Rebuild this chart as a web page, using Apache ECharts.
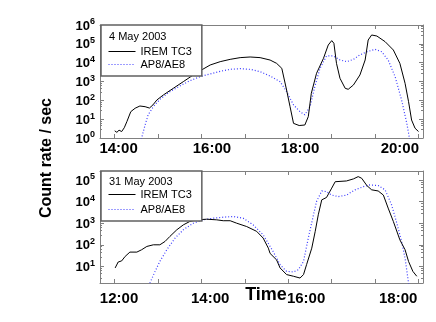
<!DOCTYPE html>
<html>
<head>
<meta charset="utf-8">
<script src="https://cdn.jsdelivr.net/npm/echarts@6/dist/echarts.min.js"></script>
<style>
  html, body { margin: 0; padding: 0; background: #fff; }
  #chart { width: 436px; height: 322px; }
</style>
</head>
<body>
<div id="chart"></div>
<script>
// 4 May 2003 pass (hours UT, counts/sec)
const may04IremT = [14.00, 14.05, 14.10, 14.16, 14.22, 14.28, 14.37, 14.47, 14.58, 14.70, 14.80, 14.88, 14.97, 15.12, 15.35, 15.58, 15.81, 16.00, 16.20, 16.43, 16.66, 16.89, 17.12, 17.35, 17.58, 17.73, 17.85, 17.96, 18.04, 18.12, 18.15, 18.25, 18.38, 18.46, 18.53, 18.65, 18.81, 18.92, 19.00, 19.05, 19.11, 19.19, 19.31, 19.38, 19.50, 19.65, 19.77, 19.84, 19.92, 20.04, 20.23, 20.42, 20.57, 20.69, 20.77, 20.84, 20.92, 21.00]
const may04IremV = [2.4, 2.0, 2.6, 2.2, 3.5, 7.4, 25, 38, 50, 46, 39, 57, 104, 192, 435, 980, 2220, 4080, 7530, 11300, 15000, 18500, 20000, 18500, 13800, 9200, 5000, 354, 46, 6.0, 4.9, 4.6, 4.9, 13.6, 236, 2720, 17000, 87000, 148000, 107000, 9200, 1480, 435, 385, 653, 2220, 13900, 160000, 295000, 260000, 130000, 47000, 9200, 800, 85, 9, 3.3, 2.2]
const may04ModelT = [14.55, 14.62, 14.70, 14.77, 14.89, 15.04, 15.27, 15.50, 15.73, 15.97, 16.20, 16.43, 16.66, 16.89, 17.12, 17.35, 17.58, 17.81, 17.96, 18.12, 18.27, 18.38, 18.50, 18.61, 18.73, 18.88, 19.04, 19.19, 19.35, 19.50, 19.65, 19.81, 20.00, 20.15, 20.30, 20.46, 20.61, 20.73, 20.79, 20.83]
const may04ModelV = [0.3, 1, 4.9, 17, 46, 113, 290, 577, 1100, 1820, 2500, 3470, 4440, 4800, 4440, 3330, 1960, 980, 290, 57, 25, 17, 46, 530, 5000, 22700, 22700, 13900, 11300, 15000, 26000, 38000, 51000, 38000, 13900, 1820, 104, 6, 1, 0.3]

// 31 May 2003 pass
const may31IremT = [12.01, 12.08, 12.16, 12.24, 12.35, 12.51, 12.62, 12.74, 12.89, 13.04, 13.16, 13.27, 13.43, 13.58, 13.73, 13.89, 14.12, 14.35, 14.50, 14.66, 14.81, 15.04, 15.27, 15.42, 15.54, 15.58, 15.62, 15.73, 15.81, 15.96, 16.12, 16.27, 16.35, 16.42, 16.54, 16.62, 16.69, 16.77, 16.88, 17.00, 17.08, 17.34, 17.50, 17.61, 17.69, 17.81, 17.92, 18.07, 18.19, 18.30, 18.42, 18.57, 18.69, 18.77, 18.87, 18.96]
const may31IremV = [8.5, 16, 18, 29, 46, 46, 59, 84, 100, 100, 143, 243, 494, 835, 1200, 1430, 1530, 1430, 1300, 1300, 1000, 700, 420, 205, 70, 40, 35, 20, 8.5, 4.2, 3.5, 2.9, 4.2, 12, 70, 420, 2440, 12000, 15500, 42000, 83000, 90000, 112000, 143000, 120000, 55000, 35000, 31000, 20000, 5000, 1200, 170, 59, 17, 5.9, 3.5]
const may31ModelT = [12.81, 12.93, 13.04, 13.20, 13.39, 13.58, 13.81, 14.04, 14.27, 14.50, 14.73, 14.96, 15.19, 15.42, 15.65, 15.81, 15.96, 16.12, 16.23, 16.35, 16.46, 16.58, 16.65, 16.77, 16.88, 17.00, 17.15, 17.34, 17.54, 17.73, 17.88, 18.07, 18.23, 18.38, 18.50, 18.61, 18.69, 18.77, 18.82]
const may31ModelV = [1.7, 5.9, 17, 59, 205, 494, 1000, 1430, 1700, 1900, 2050, 1700, 835, 290, 49, 12, 5.9, 5.6, 7, 17, 205, 2440, 10000, 31000, 29000, 20000, 17000, 20000, 35000, 49000, 59000, 55000, 35000, 7000, 1000, 143, 24, 1.7, 0.5]

// tick and label positions (hours) as drawn on the original
const may04Ticks = [14, 15, 16, 17, 18, 19, 20, 21]
const may04LabelPos = [14.09, 16.24, 18.27, 20.57]
const may04LabelText = ['14:00', '16:00', '18:00', '20:00']
const may31Ticks = [12, 13, 14, 15, 16, 17, 18, 19]
const may31LabelPos = [12.10, 14.20, 16.41, 18.53]
const may31LabelText = ['12:00', '14:00', '16:00', '18:00']

const font = 'Liberation Sans, Arial, Helvetica, sans-serif'
const boxColor = '#808080'
const modelColor = '#3a3aff'

const zip = (t, v) => t.map((x, i) => [x, v[i]])

const powLabel = (v) => {
  const e = Math.log10(v)
  const r = Math.round(e)
  if (Math.abs(e - r) > 0.01) return ''
  return '{b|10}{s|' + r + '}'
}

const xAxes = (grid, min, max, ticks, pos, text, withName) => [
  {
    type: 'value', gridIndex: grid, position: 'bottom', min, max,
    splitLine: { show: false },
    axisLine: { lineStyle: { color: boxColor, width: 1 } },
    axisTick: { inside: true, length: 4, customValues: ticks, lineStyle: { color: boxColor } },
    axisLabel: {
      customValues: pos,
      margin: grid === 0 ? 3 : 8,
      color: '#000', fontFamily: font, fontWeight: 'bold', fontSize: 15,
      formatter: (v) => {
        let k = 0
        pos.forEach((p, i) => { if (Math.abs(p - v) < Math.abs(pos[k] - v)) k = i })
        return text[k]
      },
    },
    name: withName ? 'Time' : '',
    nameLocation: 'middle',
    nameGap: 3,
    nameMoveOverlap: false,
    nameTextStyle: { color: '#000', fontFamily: font, fontWeight: 'bold', fontSize: 18, padding: [0, 0, 0, 9] },
  },
  {
    type: 'value', gridIndex: grid, position: 'top', min, max,
    splitLine: { show: false },
    axisLine: { lineStyle: { color: boxColor, width: 1 } },
    axisTick: { inside: true, length: 4, customValues: ticks, lineStyle: { color: boxColor } },
    axisLabel: { show: false },
  },
]

const yAxes = (grid, min, max) => [
  {
    type: 'log', gridIndex: grid, position: 'left', min, max, logBase: 10,
    splitLine: { show: false },
    axisLine: { show: true, lineStyle: { color: boxColor, width: 1 } },
    axisTick: { inside: true, length: 4, lineStyle: { color: boxColor } },
    minorTick: { show: true, splitNumber: 5, length: 2, lineStyle: { color: boxColor } },
    axisLabel: {
      margin: 5,
      formatter: powLabel,
      showMinLabel: true, showMaxLabel: true,
      rich: {
        b: { fontSize: 13, fontWeight: 'bold', fontFamily: font, color: '#000', verticalAlign: 'bottom', lineHeight: 15 },
        s: { fontSize: 9, fontWeight: 'bold', fontFamily: font, color: '#000', verticalAlign: 'top', lineHeight: 9 },
      },
    },
  },
  {
    type: 'log', gridIndex: grid, position: 'right', min, max, logBase: 10,
    splitLine: { show: false },
    axisLine: { show: true, lineStyle: { color: boxColor, width: 1 } },
    axisTick: { inside: true, length: 4, lineStyle: { color: boxColor } },
    minorTick: { show: true, splitNumber: 5, length: 2, lineStyle: { color: boxColor } },
    axisLabel: { show: false },
  },
]

const lineSeries = (name, data, xi, yi) => ({
  name, type: 'line', data, xAxisIndex: xi, yAxisIndex: yi,
  showSymbol: false, symbol: 'none', smooth: false, clip: true, animation: false,
  lineStyle: name === 'IREM TC3'
    ? { color: '#000', width: 1 }
    : { color: modelColor, width: 1.2, type: [1, 2] },
  itemStyle: { color: name === 'IREM TC3' ? '#000' : modelColor },
  z: name === 'IREM TC3' ? 3 : 2,
})

const legendBox = (top, padTop, gap) => ({
  orient: 'vertical', left: 101, top,
  data: ['IREM TC3', 'AP8/AE8'],
  padding: [padTop, 10, 6, 7],
  itemWidth: 27, itemHeight: 11, itemGap: gap,
  itemStyle: { color: 'transparent', borderColor: 'transparent', borderWidth: 0, opacity: 0 },
  lineStyle: { width: 1 },
  borderColor: '#606060', borderWidth: 1.5, backgroundColor: '#fff',
  textStyle: { color: '#000', fontFamily: font, fontSize: 11 },
  selectedMode: false,
})

const chart = echarts.init(document.getElementById('chart'), null, { renderer: 'canvas' })
chart.setOption({
  animation: false,
  backgroundColor: '#fff',
  grid: [
    { left: 100, top: 25, width: 323, height: 113, outerBoundsMode: 'none' },
    { left: 100, top: 171, width: 323, height: 112, outerBoundsMode: 'none' },
  ],
  xAxis: [
    ...xAxes(0, 13.661, 21.103, may04Ticks, may04LabelPos, may04LabelText, false),
    ...xAxes(1, 11.661, 19.103, may31Ticks, may31LabelPos, may31LabelText, true),
  ],
  yAxis: [
    ...yAxes(0, 1, 1e6),
    ...yAxes(1, 1.71, 2.6e5),
  ],
  legend: [legendBox(25, 21, 2), legendBox(171, 18, 4)],
  title: [
    { text: '4 May 2003', left: 109, top: 31, padding: 0, z: 10, textStyle: { fontSize: 11, fontWeight: 'normal', color: '#000', fontFamily: font } },
    { text: '31 May 2003', left: 109, top: 176, padding: 0, z: 10, textStyle: { fontSize: 11, fontWeight: 'normal', color: '#000', fontFamily: font } },
  ],
  graphic: [
    {
      type: 'text', x: 47, y: 158, rotation: Math.PI / 2,
      style: { text: 'Count rate / sec', x: 0, y: 0, align: 'center', verticalAlign: 'middle', fill: '#000', font: 'bold 16px ' + font },
    },
  ],
  series: [
    lineSeries('AP8/AE8', zip(may04ModelT, may04ModelV), 0, 0),
    lineSeries('IREM TC3', zip(may04IremT, may04IremV), 0, 0),
    lineSeries('AP8/AE8', zip(may31ModelT, may31ModelV), 2, 2),
    lineSeries('IREM TC3', zip(may31IremT, may31IremV), 2, 2),
  ],
})
</script>
</body>
</html>
